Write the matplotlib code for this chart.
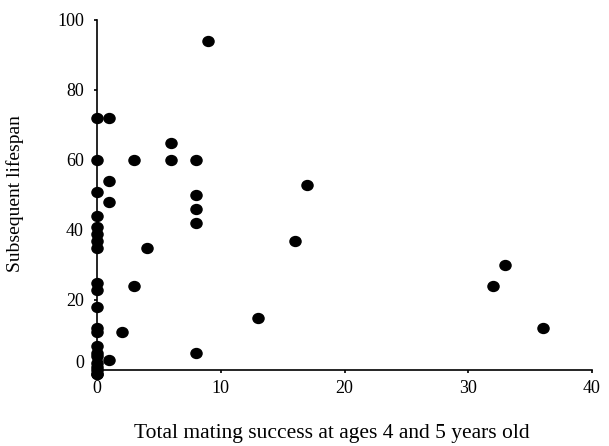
import matplotlib
matplotlib.use("Agg")
import matplotlib.pyplot as plt
from matplotlib.path import Path
from matplotlib.transforms import ScaledTranslation

plt.rcParams['font.family'] = ['Liberation Serif', 'DejaVu Serif']

mating_success = [0, 0, 0, 0, 0, 0, 0, 0, 0, 0, 0, 0, 0, 0, 0, 0, 0, 0, 0, 0, 0,
                  1, 1, 1, 1,
                  2, 3, 3, 4,
                  6, 6,
                  8, 8, 8, 8, 8,
                  9, 13, 16, 17, 32, 33, 36]
lifespan = [72, 60, 51, 44, 41, 39, 37, 35, 25, 23, 18, 12, 11, 7, 5, 4, 2, 1, 0, -1, -1,
            72, 54, 48, 3,
            11, 60, 24, 35,
            65, 60,
            60, 50, 46, 42, 5,
            94, 15, 37, 53, 24, 30, 12]

xticks = [0, 10, 20, 30, 40]
yticks = [0, 20, 40, 60, 80, 100]

# slightly wide elliptical dot, as in the scanned original
_circ = Path.unit_circle()
ellipse = Path(_circ.vertices * [1.12, 1.0], _circ.codes)

fig = plt.figure(figsize=(6.09, 4.46), dpi=100)
ax = fig.add_axes([97/609, 1-370/446, (592-97)/609, (370-20)/446])

ax.plot(mating_success, lifespan, linestyle='none', marker=ellipse, markersize=8.0,
        color='black', clip_on=False, zorder=3)

ax.set_xlim(0, 40)
ax.set_ylim(0, 100)
ax.set_xticks(xticks)
ax.set_yticks(yticks)
ax.tick_params(direction='out', length=2.5, width=1.2, labelsize=13, pad=5)
ax.tick_params(axis='y', pad=7)
for s in ['top', 'right']:
    ax.spines[s].set_visible(False)
for s in ['left', 'bottom']:
    ax.spines[s].set_linewidth(1.2)

# the "0" label sits a little above the axis line in the original
lab0 = ax.yaxis.get_major_ticks()[0].label1
lab0.set_transform(lab0.get_transform() + ScaledTranslation(0, 8/100, fig.dpi_scale_trans))

ax.set_xlabel('Total mating success at ages 4 and 5 years old', fontsize=15.5)
ax.set_ylabel('Subsequent lifespan', fontsize=14)
ax.xaxis.set_label_coords(0.475, -0.155)
ax.yaxis.set_label_coords(-0.148, 0.505)

fig.savefig('out.png', dpi=100)
